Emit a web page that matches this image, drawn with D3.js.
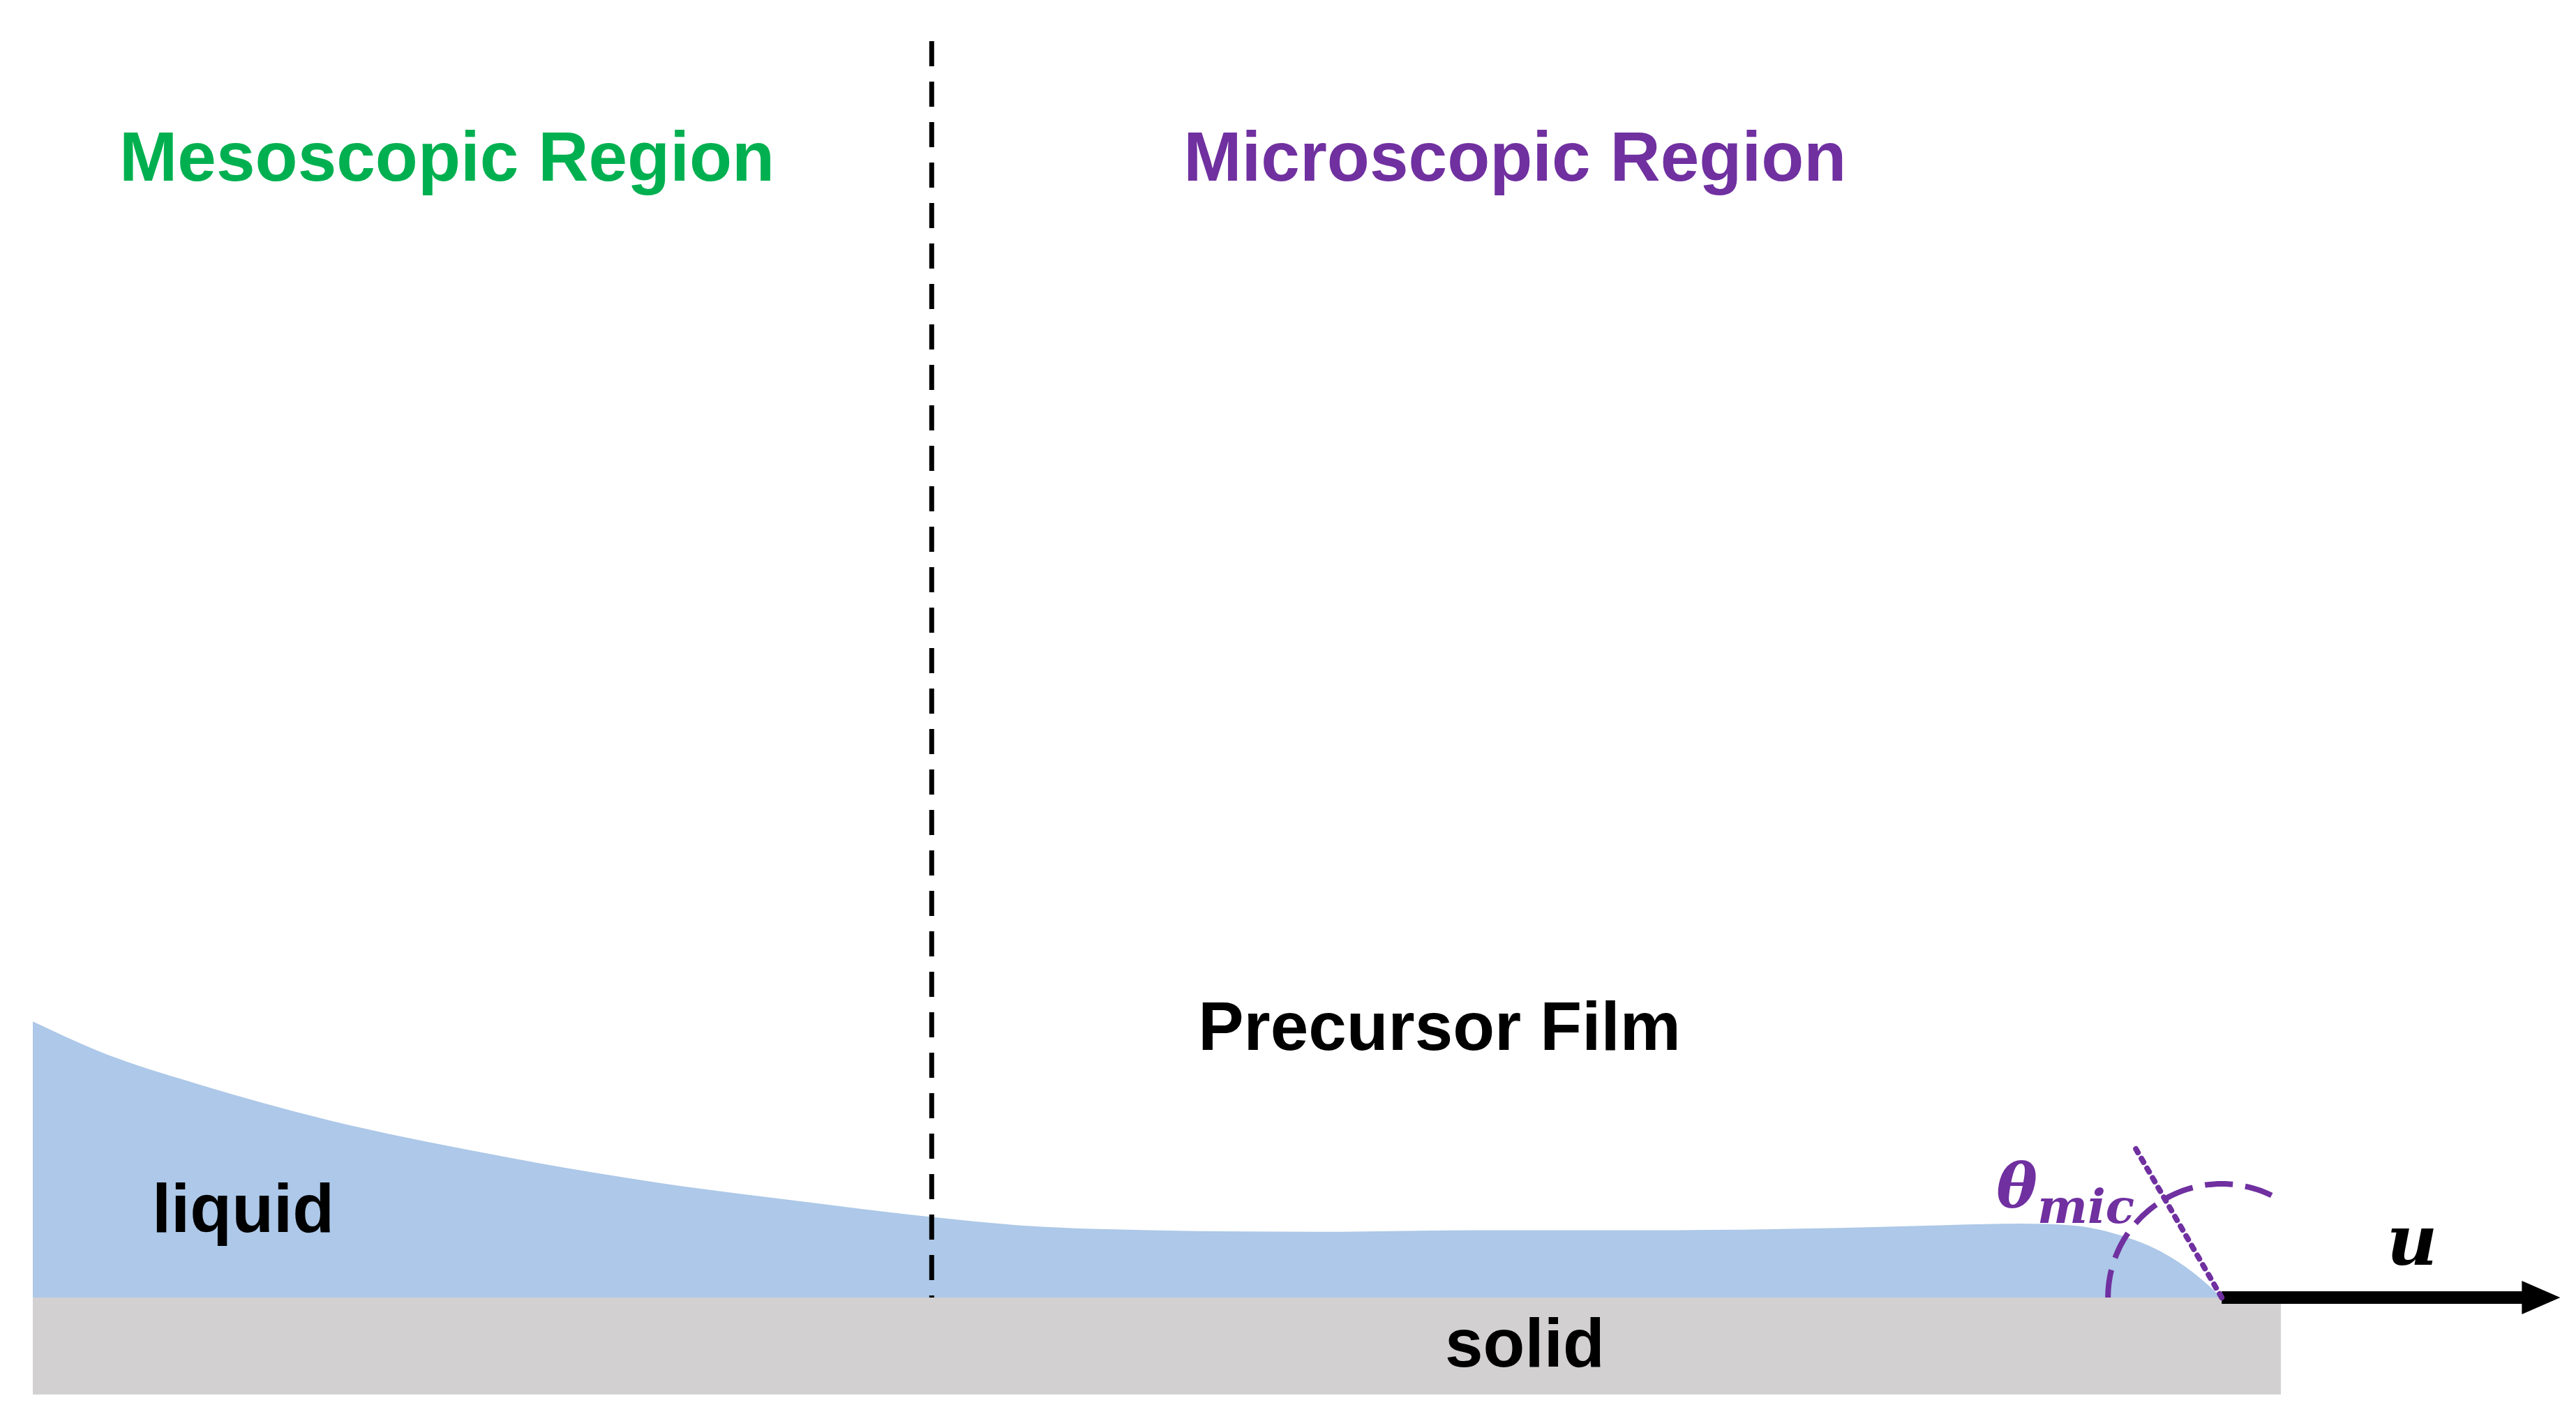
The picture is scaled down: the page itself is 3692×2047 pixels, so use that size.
<!DOCTYPE html>
<html><head><meta charset="utf-8">
<script src="https://cdn.jsdelivr.net/npm/d3@7"></script>
<style>body{margin:0;background:#fff}svg{display:block}</style>
</head><body>
<script>
// liquid film profile: position along solid (units) and height (units)
const profileX = [0,40,100,180,280,380,480,547,600,680,780,880,980,1080,1160,1210,1240,1270,1295,1315,1332];
const profileH = [168,150,130,108,87,70,57,49,44,41,40,41,41,42,44,45,44,38,28,15,0];
const solidLength = 1368;
const dividerX = 547;
const contactX = 1332;
const arrowEndX = 1538;
const contactAngleDeg = 60;
const labels = ["Mesoscopic Region","Microscopic Region","Precursor Film","liquid","solid"];

const W=3692,H=2047;
const svg=d3.select("body").append("svg").attr("width",W).attr("height",H);
const x=d3.scaleLinear().domain([0,solidLength]).range([47,3269]);
const y=d3.scaleLinear().domain([0,100]).range([1860,1860-235.5]);
const k=2.355;

// solid
svg.append("rect").attr("x",x(0)).attr("y",y(0)).attr("width",x(solidLength)-x(0)).attr("height",139).attr("fill","#d3d0d1");
// liquid
const area=d3.area().x((d,i)=>x(profileX[i])).y0(y(0)).y1(d=>y(d)).curve(d3.curveMonotoneX);
svg.append("path").attr("d",area(profileH)).attr("fill","#adc8e8");
// divider
svg.append("line").attr("x1",x(dividerX)).attr("x2",x(dividerX)).attr("y1",59).attr("y2",y(0))
  .attr("stroke","#000").attr("stroke-width",7).attr("stroke-dasharray","36,22");
// arrow
const cx=x(contactX), cy=y(0);
svg.append("line").attr("x1",cx).attr("x2",x(arrowEndX)-40).attr("y1",cy).attr("y2",cy).attr("stroke","#000").attr("stroke-width",18);
svg.append("path").attr("d",`M${x(arrowEndX)},${cy} l-55,-24 l0,48 z`).attr("fill","#000");
// dotted tangent
const a=contactAngleDeg*Math.PI/180, L=250;
svg.append("line").attr("x1",cx).attr("y1",cy).attr("x2",cx-L*Math.cos(a)).attr("y2",cy-L*Math.sin(a))
  .attr("stroke","#7030a0").attr("stroke-width",8).attr("stroke-dasharray","6,10").attr("stroke-linecap","round");
// dashed arc
const r=163;
const arcPts=d3.range(180,contactAngleDeg-0.1,-2).map(t=>[cx+r*Math.cos(t*Math.PI/180),cy-r*Math.sin(t*Math.PI/180)]);
svg.append("path").attr("d",d3.line()(arcPts)).attr("fill","none").attr("stroke","#7030a0").attr("stroke-width",8).attr("stroke-dasharray","40,18");

const t=(s,xx,yy,col,size,anchor="middle")=>svg.append("text").attr("x",xx).attr("y",yy).text(s)
  .attr("fill",col).attr("font-family","Liberation Sans, Arial, sans-serif").attr("font-weight","bold")
  .attr("font-size",size).attr("text-anchor",anchor);
t(labels[0],272*k,110*k,"#00b050",100);
t(labels[1],922*k,110*k,"#7030a0",100);
t(labels[2],876*k,639*k,"#000",98);
t(labels[3],148*k,750*k,"#000",98);
t(labels[4],928*k,832*k,"#000",98);

const th=svg.append("text").attr("x",1215*k).attr("y",735*k).attr("fill","#7030a0")
  .attr("font-family","DejaVu Serif, serif").attr("font-style","italic").attr("font-weight","bold").attr("font-size",88);
th.append("tspan").text("θ");
th.append("tspan").attr("dy",22).attr("font-size",68).text("mic");
svg.append("text").attr("x",1468*k).attr("y",770*k).attr("text-anchor","middle").text("u")
  .attr("font-family","DejaVu Serif, serif").attr("font-style","italic").attr("font-weight","bold").attr("font-size",100);
</script>
</body></html>
